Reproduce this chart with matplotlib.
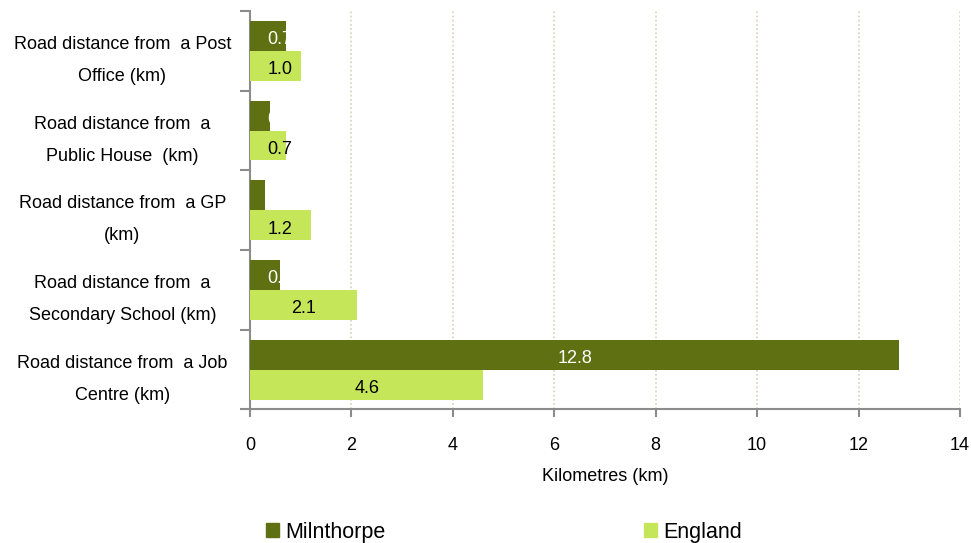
import numpy as np
import matplotlib
matplotlib.use('Agg')
import matplotlib.pyplot as plt
from matplotlib.patches import Patch

plt.rcParams['font.family'] = ['Liberation Sans', 'DejaVu Sans']

categories = ['Road distance from  a Post\nOffice (km)',
              'Road distance from  a\nPublic House  (km)',
              'Road distance from  a GP\n(km)',
              'Road distance from  a\nSecondary School (km)',
              'Road distance from  a Job\nCentre (km)']
milnthorpe = [0.7, 0.4, 0.3, 0.6, 12.8]
england = [1.0, 0.7, 1.2, 2.1, 4.6]
x_ticks = [0, 2, 4, 6, 8, 10, 12, 14]

dark = '#5e7011'
light = '#c6e65a'
axis_grey = '#8c8c8c'

fig = plt.figure(figsize=(9.71, 5.43), dpi=100)
ax = fig.add_axes([0.2575, 0.2459, 0.7312, 0.7338])

pos = np.arange(len(categories))
h = 0.375
bars_m = ax.barh(pos - h / 2, milnthorpe, height=h, color=dark, zorder=3)
bars_e = ax.barh(pos + h / 2, england, height=h, color=light, zorder=3)

# value labels, centred in the bar but clipped to it (Excel style)
for bars, vals, col in [(bars_m, milnthorpe, 'white'), (bars_e, england, 'black')]:
    for bar, v in zip(bars, vals):
        y = bar.get_y() + bar.get_height() / 2
        t = ax.text(max(v / 2, 0.59), y + 0.05, f'{v:.1f}', ha='center', va='center',
                    color=col, fontsize=13, zorder=4)
        t.set_clip_path(bar)

ax.set_xlim(0, 14)
ax.set_ylim(len(categories) - 0.5, -0.5)
ax.set_xticks(x_ticks)
ax.set_xticklabels([str(v) for v in x_ticks], fontsize=13)
ax.set_yticks(pos)
ax.set_yticklabels(categories, fontsize=13, ha='center', linespacing=2.15)
ax.tick_params(axis='y', which='major', length=0, pad=92)
ax.set_yticks(np.arange(len(categories) + 1) - 0.5, minor=True)
ax.tick_params(axis='y', which='minor', length=7, color=axis_grey, width=1.5)
ax.tick_params(axis='x', length=6, color=axis_grey, width=1.5, pad=14)

ax.grid(axis='x', color='#d6d2b0', linestyle=(0, (1, 1.5)), linewidth=1.2, zorder=0)
for s in ['top', 'right']:
    ax.spines[s].set_visible(False)
for s in ['left', 'bottom']:
    ax.spines[s].set_color(axis_grey)
    ax.spines[s].set_linewidth(1.5)

ax.set_xlabel('Kilometres (km)', fontsize=13, labelpad=10)

handles = [Patch(color=dark, label='Milnthorpe'), Patch(color=light, label='England')]
fig.legend(handles=handles, loc='lower center', bbox_to_anchor=(0.519, -0.035), ncol=2,
           frameon=False, fontsize=15.5, handlelength=0.6, handleheight=0.6,
           handletextpad=0.3, columnspacing=12.0)

fig.savefig('out.png', dpi=100)
